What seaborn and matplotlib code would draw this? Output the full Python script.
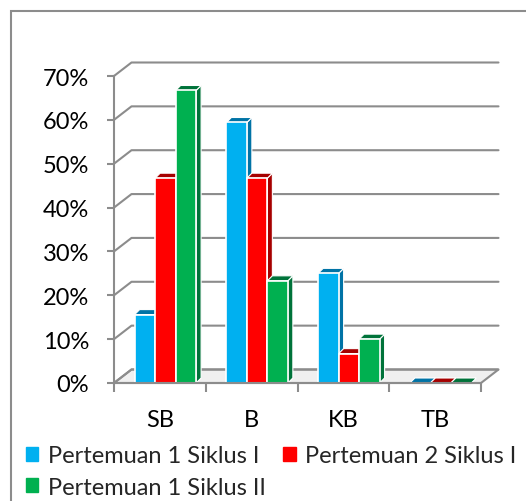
import matplotlib
matplotlib.use("Agg")
from matplotlib import pyplot as plt
from matplotlib.patches import Polygon, Rectangle
import pandas as pd
import seaborn as sns

# data (persen)
kategori = ["SB", "B", "KB", "TB"]
pertemuan = ["Pertemuan 1 Siklus I", "Pertemuan 2 Siklus I", "Pertemuan 1 Siklus II"]
p1_siklus1 = [15.6, 59.4, 25.0, 0.0]
p2_siklus1 = [46.7, 46.7, 6.7, 0.0]
p1_siklus2 = [66.7, 23.3, 10.0, 0.0]
yticks = [0, 10, 20, 30, 40, 50, 60, 70]

warna = ["#00B0F0", "#FF0000", "#00B050"]
warna_sisi = ["#0073A6", "#A60000", "#00733A"]
abu = "#8C8C8C"

df = pd.DataFrame({
    "kategori": kategori * 3,
    "pertemuan": [p for p in pertemuan for _ in kategori],
    "persen": p1_siklus1 + p2_siklus1 + p1_siklus2,
})

sns.set_theme(style="white")
plt.rcParams["font.family"] = ["Lato", "DejaVu Sans"]
fs = 17

W, H = 526, 502
fig = plt.figure(figsize=(W / 100, H / 100), dpi=100)
ax = fig.add_axes([114 / W, 1 - 384 / H, (481 - 114) / W, (384 - 77) / H])
ax.patch.set_alpha(0)
sns.barplot(data=df, x="kategori", y="persen", hue="pertemuan",
            order=kategori, hue_order=pertemuan, palette=warna, saturation=1,
            width=0.67, edgecolor="white", linewidth=1.2, legend=False,
            zorder=3, ax=ax)
ax.set_xlim(-0.5, 3.5)
ax.set_ylim(0, 70)
ax.set_xlabel("")
ax.set_ylabel("")


def geser(x, y, dx, dy):
    # pindahkan titik data sejauh dx, dy piksel
    px, py = ax.transData.transform((x, y))
    return tuple(ax.transData.inverted().transform((px + dx, py + dy)))


# dinding belakang + garis grid
bx, by = 17.5, 13.5
lantai = [(-0.5, 0), (3.5, 0), geser(3.5, 0, bx, by), geser(-0.5, 0, bx, by)]
ax.add_patch(Polygon(lantai, closed=True, facecolor="#F0F0F0", edgecolor=abu,
                     lw=1.5, clip_on=False, zorder=1))
for v in yticks:
    a = geser(-0.5, v, bx, by)
    b = geser(3.5, v, bx, by)
    ax.plot([-0.5, a[0], b[0]], [v, a[1], b[1]], color=abu, lw=1.5,
            clip_on=False, zorder=1)

# efek 3D pada batang
dd = 5
geser_x = geser(0, 0, 5.5, 0)[0]
for j, cont in enumerate(ax.containers):
    for p in cont:
        p.set_x(p.get_x() + geser_x)
        x0 = p.get_x()
        x1 = x0 + p.get_width()
        h = p.get_height()
        atas = [(x0, h), (x1, h), geser(x1, h, dd, dd), geser(x0, h, dd, dd)]
        sisi = [(x1, 0), (x1, h), geser(x1, h, dd, dd), geser(x1, 0, dd, dd)]
        for poly in (sisi, atas):
            ax.add_patch(Polygon(poly, closed=True, facecolor=warna_sisi[j],
                                 edgecolor="white", lw=0.8, clip_on=False,
                                 zorder=2.9))

for s in ["top", "right"]:
    ax.spines[s].set_visible(False)
for s in ["left", "bottom"]:
    ax.spines[s].set_color(abu)
    ax.spines[s].set_linewidth(1.5)
    ax.spines[s].set_zorder(4)

ax.set_yticks(yticks)
ax.set_yticklabels([f"{v}%" for v in yticks], fontsize=fs, color="black")
ax.tick_params(axis="y", left=True, length=5, width=1.5, color=abu, pad=13)
ax.set_xticks(range(len(kategori)))
ax.set_xticklabels(kategori, fontsize=fs, color="black")
ax.set_xticks([i - 0.5 for i in range(len(kategori) + 1)], minor=True)
ax.tick_params(axis="x", which="major", bottom=False, length=0, pad=19)
ax.tick_params(axis="x", which="minor", bottom=True, length=6.5, width=1.5,
               color=abu)

# legenda
kotak = [Rectangle((0, 0), 1, 1, color=c) for c in warna]
urut = [0, 2, 1]
fig.legend([kotak[i] for i in urut], [pertemuan[i] for i in urut], ncol=2,
           loc="upper left", bbox_to_anchor=(26 / W, 1 - 446 / H),
           frameon=False, fontsize=fs, handlelength=0.52, handleheight=0.52,
           handletextpad=0.4, columnspacing=0.75, labelspacing=0.45,
           borderaxespad=0, borderpad=0)

# bingkai grafik
fig.patches.append(Rectangle((11 / W, -0.2), 2, 1 - 12 / H + 0.2,
                             transform=fig.transFigure, fill=False,
                             edgecolor=abu, lw=1.5))

fig.savefig("out.png", dpi=100)
